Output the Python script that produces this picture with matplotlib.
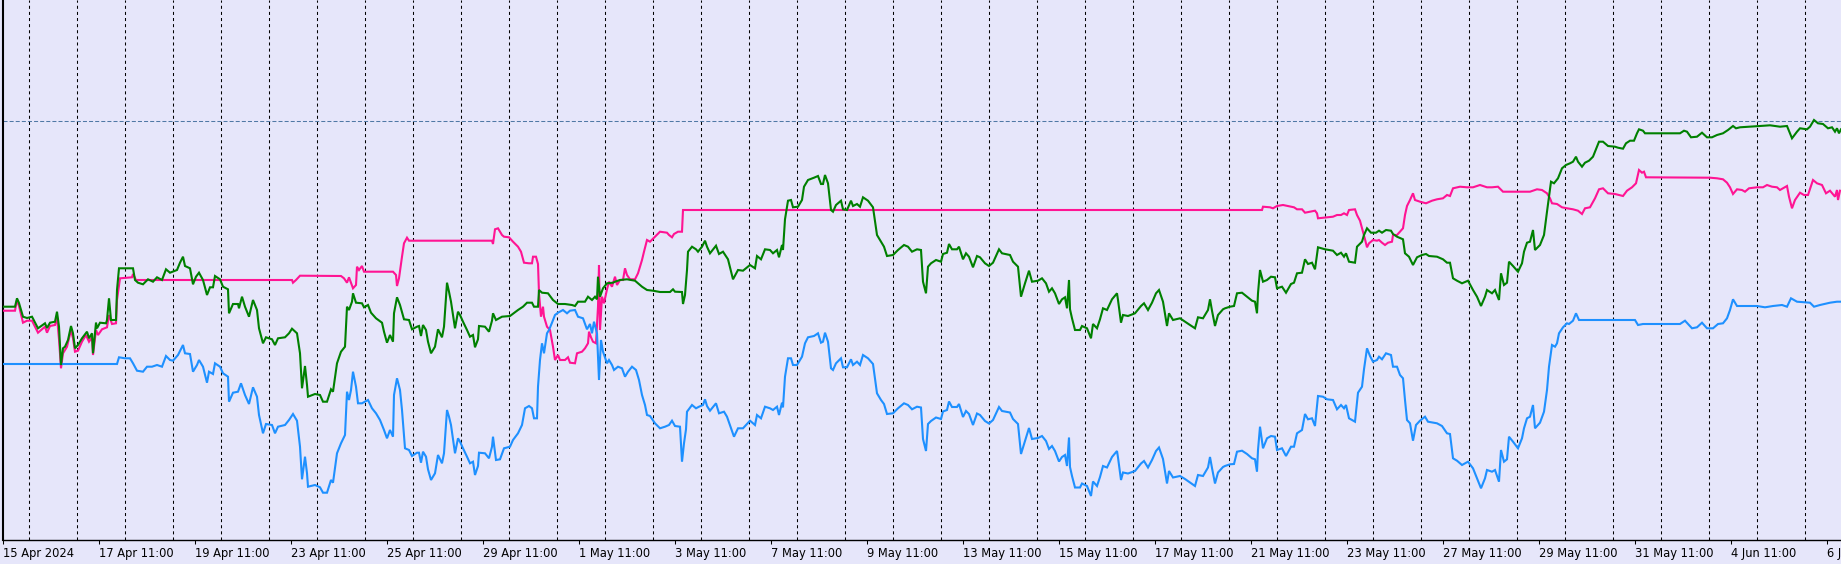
import numpy as np
import matplotlib
matplotlib.use("Agg")
import matplotlib.pyplot as plt

# bar index / value pairs
green = [(0, 233.3), (12, 233.3), (14, 241.7), (16, 237), (20, 223.3), (24, 222), (29, 223.3), (35, 211.7),
         (42, 216.7), (44, 212), (47, 217.3), (52, 218.3), (54, 228.3), (56, 213.3), (58, 175), (60, 191.7),
         (62, 193.3), (65, 200), (68, 214), (70, 206.7), (72, 191.7), (75, 195), (79, 201.7), (84, 208.3),
         (86, 201.7), (89, 206.7), (90, 186.7), (93, 217.3), (94, 211.7), (97, 217.3), (103, 216.7), (104, 220),
         (106, 241.7), (108, 220), (113, 220), (114, 250), (116, 271.7), (130, 271.7), (132, 260), (135, 257.3),
         (140, 255.7), (145, 260.7), (150, 258.3), (154, 262.7), (159, 260), (163, 270.7), (167, 267.3),
         (174, 270), (177, 277.3), (180, 283.3), (182, 274), (187, 271.7), (190, 255.7), (193, 263.3),
         (196, 267.3), (200, 260), (204, 245), (207, 252.7), (210, 252.7), (212, 264), (217, 260.7),
         (220, 253.3), (225, 250.7), (226, 226.7), (230, 236), (235, 236), (236, 231.7), (239, 243.3),
         (242, 233.3), (246, 223.3), (250, 240), (254, 230), (256, 211.7), (260, 196.7), (263, 202.7),
         (269, 200.7), (272, 195), (275, 201.7), (282, 202.7), (286, 206.7), (289, 211.3), (294, 206.7),
         (297, 186.7), (299, 151.7), (302, 174), (304, 155), (305, 143.3), (312, 146), (317, 145), (320, 138.3),
         (324, 138.3), (328, 150.7), (330, 148.3), (334, 176.7), (338, 188.3), (342, 193.3), (344, 233.3),
         (346, 230), (349, 238.3), (350, 246.7), (353, 237.3), (359, 236.7), (361, 232.7), (365, 235),
         (368, 227.3), (373, 221.7), (379, 217.3), (381, 208.3), (384, 197.3), (387, 205), (390, 198.3),
         (391, 226.7), (394, 242.7), (397, 235), (401, 220.7), (406, 220), (409, 210.7), (414, 213.3),
         (416, 214), (418, 204), (420, 215), (423, 210), (425, 198.3), (428, 186.7), (432, 193.3), (435, 210.7),
         (439, 202.7), (441, 213.3), (444, 257.3), (446, 248.3), (448, 238.3), (452, 211.7), (455, 228.3),
         (457, 225), (460, 218.3), (464, 210), (467, 203.3), (470, 205), (472, 192.7), (475, 200.7), (476, 214),
         (482, 213.3), (486, 208.3), (489, 219.3), (490, 226.7), (493, 220), (499, 223.3), (507, 224),
         (515, 230), (520, 233.3), (524, 237.3), (529, 237.3), (531, 233.3), (535, 233.3), (536, 250),
         (539, 247.3), (545, 246.7), (550, 240), (555, 236), (562, 236), (569, 235), (572, 234), (575, 238.3),
         (582, 238.3), (585, 243.3), (589, 240), (592, 243.3), (594, 240.7), (595, 263.3), (597, 243.3),
         (600, 251.7), (604, 256.7), (610, 257.3), (612, 258.3), (617, 260), (624, 260.7), (632, 259.3),
         (639, 253.3), (644, 250), (650, 249.3), (657, 248), (667, 248), (670, 250.7), (672, 248.3), (679, 248),
         (680, 236), (682, 245), (684, 270), (685, 288.3), (689, 293.3), (693, 290.7), (695, 288.3),
         (699, 293.3), (702, 299.3), (704, 293.3), (707, 286.7), (713, 294.3), (716, 286), (720, 288.3),
         (725, 280.7), (730, 260.7), (735, 270), (740, 269.3), (747, 275), (752, 271.7), (754, 284),
         (758, 280.7), (762, 290.7), (767, 290), (770, 286.7), (774, 290), (776, 282.7), (779, 295), (780, 290),
         (782, 320.7), (785, 339.3), (788, 340), (790, 332.7), (795, 333.3), (799, 340), (801, 353.3),
         (805, 360), (811, 362.3), (815, 364), (818, 356), (820, 356), (822, 365), (825, 356.7), (828, 330),
         (830, 328.3), (833, 335), (838, 339.3), (840, 330.7), (844, 330), (848, 339.3), (850, 334), (854, 336),
         (857, 333.3), (860, 342.7), (865, 339.3), (870, 332.7), (874, 305), (878, 298.3), (881, 293.3),
         (884, 284), (890, 285), (895, 290), (901, 295), (905, 293.3), (909, 288.3), (914, 290.7), (918, 290),
         (920, 258.3), (923, 246.7), (925, 273.3), (928, 276.7), (933, 280), (938, 278.3), (940, 286),
         (944, 287.3), (946, 296), (949, 290.7), (954, 290.7), (956, 293.3), (960, 280.7), (963, 286.7),
         (966, 283.3), (970, 272.7), (974, 284), (977, 282.7), (982, 276.7), (986, 274), (990, 277.3),
         (996, 290.7), (999, 286.7), (1007, 285), (1010, 278.3), (1015, 273.3), (1018, 243.3), (1022, 256.7),
         (1026, 269.3), (1029, 258.3), (1035, 259.3), (1039, 261.7), (1043, 256.7), (1046, 248.3),
         (1049, 251.7), (1052, 246.7), (1056, 236), (1059, 240.7), (1062, 242.7), (1064, 231.7), (1066, 260),
         (1067, 230.7), (1069, 221.7), (1072, 210), (1077, 210), (1079, 214), (1084, 211.7), (1088, 201.7),
         (1090, 216), (1094, 211.7), (1097, 220.7), (1100, 231.7), (1104, 230), (1109, 240.7), (1114, 246.7),
         (1115, 240), (1118, 217.3), (1120, 225), (1125, 224), (1132, 226.7), (1138, 234), (1141, 236.7),
         (1145, 230), (1149, 237.3), (1153, 246.7), (1156, 250), (1160, 238.3), (1164, 214), (1166, 226.7),
         (1170, 220), (1177, 221.7), (1182, 218.3), (1187, 215), (1192, 211.7), (1195, 222.7), (1200, 221.7),
         (1205, 230), (1207, 240.7), (1209, 229.3), (1212, 214), (1215, 225), (1220, 230.7), (1222, 231.7),
         (1227, 233.3), (1231, 234), (1234, 246.7), (1239, 247.3), (1244, 243.3), (1249, 239.3), (1252, 238.3),
         (1254, 226.7), (1255, 246.7), (1257, 270), (1260, 258.3), (1264, 260), (1268, 263.3), (1272, 262.7),
         (1274, 251.7), (1279, 253.3), (1283, 247.3), (1288, 256), (1291, 257.3), (1294, 266.7), (1299, 267.3),
         (1302, 280.7), (1305, 276), (1309, 277.3), (1312, 270.7), (1315, 292.7), (1322, 290.7), (1330, 289.3),
         (1334, 285), (1338, 287.3), (1341, 283.3), (1343, 286.7), (1346, 278.3), (1352, 277.3), (1354, 293.3),
         (1359, 298.3), (1361, 305), (1364, 311.7), (1368, 307.3), (1373, 307.3), (1376, 309.3), (1379, 307.3),
         (1383, 310), (1388, 309.3), (1390, 306), (1394, 303.3), (1400, 300.7), (1402, 286.7), (1406, 283.3),
         (1410, 275), (1414, 282.7), (1419, 285), (1423, 286), (1426, 284), (1434, 283.3), (1440, 280.7),
         (1444, 277.3), (1447, 277.3), (1450, 261.7), (1454, 259.3), (1459, 256.7), (1465, 259.3), (1470, 250),
         (1474, 243.3), (1478, 234), (1482, 243.3), (1484, 250), (1489, 246.7), (1492, 250), (1496, 240),
         (1498, 266.7), (1501, 255), (1504, 257.3), (1506, 278.3), (1510, 274), (1515, 268.3), (1519, 276.7),
         (1521, 288.3), (1524, 297.3), (1527, 298.3), (1530, 310), (1532, 290), (1537, 295), (1541, 305),
         (1544, 328.3), (1548, 358.3), (1551, 356.7), (1555, 361.7), (1559, 371.7), (1563, 375), (1567, 376.7),
         (1570, 378.3), (1573, 383.3), (1575, 378.3), (1579, 373.3), (1582, 377.3), (1586, 379.3), (1590, 383.3),
         (1594, 393.3), (1596, 398.3), (1600, 398.3), (1605, 394), (1612, 393.3), (1615, 392.3), (1620, 391.3),
         (1623, 396.7), (1627, 399.3), (1631, 399.3), (1634, 406.7), (1636, 410.7), (1640, 409.3), (1642, 406.7),
         (1677, 406.7), (1681, 409.3), (1684, 408.3), (1688, 402.7), (1694, 403.3), (1699, 407.3), (1704, 402.7),
         (1709, 402.7), (1714, 405), (1720, 406.7), (1725, 410), (1730, 414), (1733, 411.7), (1737, 412.7),
         (1747, 413.3), (1757, 414), (1767, 414.7), (1777, 413.3), (1784, 414), (1789, 401.7), (1794, 408.3),
         (1797, 411.7), (1804, 410.7), (1807, 413.3), (1811, 420), (1815, 416.7), (1820, 416), (1825, 411.7),
         (1829, 412.7), (1832, 408.3), (1834, 411.7), (1836, 406.7), (1838, 410.7)]

pink = [(0, 229.3), (12, 229.3), (14, 240), (16, 234), (20, 217.3), (24, 219.3), (29, 219.3), (35, 207.3),
        (42, 213.3), (44, 207.3), (47, 214), (52, 215), (54, 223.3), (56, 200.7), (58, 171.7), (60, 186.7),
        (64, 193.3), (68, 210), (70, 201.7), (72, 188.3), (75, 189.3), (79, 198.3), (83, 205), (86, 198.3),
        (89, 202.7), (90, 185), (93, 210), (95, 205), (99, 210.7), (104, 212.7), (106, 225), (109, 216),
        (113, 216.7), (114, 240), (117, 261.7), (129, 262.7), (130, 266), (133, 260), (289, 260), (290, 257.3),
        (293, 260), (297, 264.3), (338, 264), (341, 261.7), (344, 257.3), (346, 262.7), (348, 257.3),
        (350, 251.7), (353, 255), (354, 273.3), (356, 270), (359, 274), (361, 268.3), (390, 268.3), (393, 265),
        (394, 254), (396, 261.7), (399, 283.3), (401, 296.7), (404, 302.3), (406, 299.3), (489, 299.3),
        (490, 296), (492, 310.7), (495, 311.7), (499, 305), (501, 303.3), (506, 302.7), (510, 298.3),
        (515, 293.3), (518, 288.3), (521, 277.3), (526, 276.7), (529, 276.7), (530, 283.3), (533, 283.3),
        (535, 276), (536, 246.7), (538, 223.3), (540, 233.3), (541, 223.3), (544, 213.3), (547, 210),
        (550, 193.3), (552, 180), (555, 185), (557, 180), (562, 180), (565, 182.7), (567, 177.3), (572, 176.7),
        (574, 186.7), (579, 188.3), (582, 191.7), (585, 196.7), (586, 208.3), (588, 202.7), (590, 198.3),
        (593, 196.7), (595, 233.3), (596, 275), (597, 210), (599, 243.3), (601, 236.7), (604, 250.7),
        (606, 258.3), (609, 253.3), (612, 263.3), (614, 255), (617, 260), (620, 260), (622, 271.7), (624, 265),
        (627, 260.7), (632, 260.7), (635, 266.7), (639, 280), (641, 288.3), (644, 300), (647, 298.3),
        (652, 303.3), (657, 308.3), (664, 307.3), (666, 305), (669, 302.7), (671, 306), (675, 308.3),
        (679, 308.3), (680, 330), (1259, 330), (1260, 333.3), (1267, 332.7), (1270, 331.7), (1274, 334),
        (1280, 335), (1285, 334), (1291, 332.7), (1294, 330.7), (1299, 330.7), (1302, 327.3), (1307, 328.3),
        (1312, 329.3), (1314, 326.7), (1315, 321.7), (1324, 322.7), (1330, 323.3), (1334, 325), (1338, 325),
        (1341, 326.7), (1344, 325), (1346, 330), (1352, 330.7), (1354, 325), (1357, 319.3), (1360, 308.3),
        (1362, 300.7), (1364, 292.7), (1366, 296.7), (1370, 300), (1374, 299.3), (1376, 300), (1379, 297.3),
        (1382, 295), (1385, 297.3), (1389, 298.3), (1390, 305), (1394, 305), (1397, 308.3), (1400, 311.7),
        (1402, 325), (1404, 334), (1407, 340), (1410, 346.7), (1412, 340), (1417, 338.3), (1423, 336.7),
        (1429, 339.3), (1434, 340.7), (1440, 341.7), (1444, 345), (1447, 344), (1450, 351.7), (1457, 353.3),
        (1464, 352.7), (1470, 352.7), (1477, 355), (1484, 352.7), (1489, 352.7), (1495, 353.3), (1500, 348.3),
        (1527, 348.3), (1534, 350.7), (1539, 350), (1544, 346.7), (1547, 341.7), (1549, 336.7), (1554, 336),
        (1559, 332.7), (1564, 331.7), (1570, 330.7), (1575, 329.3), (1579, 326), (1582, 331.7), (1587, 332.7),
        (1592, 341.7), (1596, 350.7), (1600, 351.7), (1605, 346.7), (1612, 346), (1620, 344), (1624, 349.3),
        (1629, 352.7), (1633, 356.7), (1636, 370), (1639, 367.3), (1641, 368.3), (1643, 362.7), (1707, 362.3),
        (1714, 361.7), (1720, 360.7), (1724, 357.3), (1727, 352.7), (1730, 346), (1734, 350.7), (1739, 350),
        (1742, 348.3), (1746, 351.7), (1754, 352.7), (1760, 352.7), (1764, 355), (1769, 353.3), (1774, 352.7),
        (1777, 350), (1780, 351.7), (1784, 354), (1786, 343.3), (1789, 331.7), (1792, 340), (1797, 347.3),
        (1801, 345), (1805, 345), (1810, 360), (1814, 356.7), (1819, 355), (1823, 346.7), (1827, 349.3),
        (1832, 343.3), (1834, 350), (1835, 340), (1837, 349.3)]

blue = [(0, 176), (114, 176), (116, 182.7), (122, 181.7), (127, 181.7), (130, 176.7), (134, 169.3), (140, 168.3),
        (144, 173.3), (149, 173.3), (154, 175), (159, 173.3), (163, 184), (167, 180), (170, 179.3), (175, 185),
        (180, 195), (182, 186.7), (187, 186), (190, 168.3), (194, 175), (196, 180), (200, 173.3), (204, 157.3),
        (206, 168.3), (210, 166), (212, 176.7), (217, 173.3), (220, 166.7), (225, 163.3), (226, 138.3),
        (230, 147.3), (235, 148.3), (238, 156.7), (242, 145), (246, 136), (250, 152.7), (254, 143.3), (256, 125),
        (260, 106.7), (263, 116), (269, 115), (272, 106.7), (275, 113.3), (282, 115), (286, 120), (290, 126),
        (294, 119.3), (297, 93.3), (299, 60.7), (302, 83.3), (304, 66.7), (305, 53.3), (312, 55), (317, 52.7),
        (320, 47.3), (324, 47.3), (328, 60), (330, 57.3), (334, 86.7), (338, 96.7), (342, 105), (344, 148.3),
        (346, 140), (348, 150), (350, 168.3), (353, 153.3), (355, 136.7), (359, 136.7), (362, 138.3), (365, 140),
        (369, 131.7), (373, 126.7), (377, 120), (381, 110), (384, 101.7), (387, 110), (390, 103.3), (391, 145),
        (394, 161.7), (397, 150), (399, 130), (402, 91.7), (406, 90), (409, 84), (414, 87.3), (416, 87.3),
        (418, 77.3), (420, 88.3), (423, 83.3), (425, 70.7), (428, 60), (432, 66.7), (435, 85), (439, 76.7),
        (441, 86.7), (444, 130), (446, 123.3), (448, 115), (452, 86.7), (455, 101.7), (457, 98.3), (460, 91.7),
        (464, 83.3), (467, 76.7), (470, 78.3), (472, 65), (475, 74), (476, 87.3), (482, 86.7), (486, 81.7),
        (489, 93.3), (490, 103.3), (493, 80), (497, 80.7), (501, 91.7), (507, 93.3), (510, 100), (515, 106.7),
        (519, 115), (522, 131.7), (526, 134), (529, 131.7), (531, 121.7), (534, 121.7), (535, 153.3), (537, 180),
        (539, 196.7), (541, 186.7), (544, 206.7), (546, 210), (549, 217.3), (552, 225), (555, 227.3), (560, 230),
        (564, 226.7), (567, 229.3), (572, 230), (575, 223.3), (580, 221.7), (584, 210.7), (587, 216),
        (589, 206.7), (591, 218.3), (594, 206.7), (596, 160), (598, 200), (600, 188.3), (604, 176.7), (606, 180),
        (609, 175), (611, 170), (615, 173.3), (619, 171.7), (622, 163.3), (625, 168.3), (629, 173.3), (633, 170),
        (636, 160), (639, 145), (642, 135), (644, 125), (647, 124), (652, 116.7), (657, 111.7), (662, 113.3),
        (666, 115), (669, 119.3), (672, 114), (677, 113.3), (679, 78.3), (681, 96.7), (683, 110.7), (684, 128.3),
        (689, 135), (693, 131.7), (696, 133.3), (700, 135), (702, 140.7), (704, 134), (707, 129.3), (713, 136.7),
        (716, 126.7), (721, 128.3), (724, 123.3), (728, 111.7), (731, 103.3), (735, 111.7), (740, 111.7),
        (747, 119.3), (752, 115), (754, 125), (758, 121.7), (762, 133.3), (767, 131.7), (770, 130), (774, 133.3),
        (776, 125), (779, 137.3), (780, 132.7), (782, 163.3), (785, 181.7), (788, 181.7), (790, 175), (794, 175),
        (799, 183.3), (802, 196.7), (805, 202.7), (811, 204), (815, 206.7), (818, 197.3), (820, 198.3),
        (822, 207.3), (825, 198.3), (828, 171.7), (830, 170), (833, 176.7), (838, 181.7), (840, 172.7),
        (844, 172.7), (848, 180.7), (850, 175), (854, 178.3), (857, 175), (860, 185), (865, 181.7), (870, 176),
        (874, 146.7), (878, 140), (881, 136), (884, 126), (890, 126.7), (895, 131.7), (901, 136.7), (905, 135),
        (909, 130.7), (914, 133.3), (918, 132.5), (920, 101), (923, 89), (925, 116), (928, 119), (933, 122.5),
        (938, 121), (940, 128.5), (944, 130), (946, 138.5), (949, 133), (954, 133), (956, 136), (960, 123),
        (963, 129), (966, 126), (970, 115), (974, 126.5), (977, 125), (982, 119), (986, 116.5), (990, 120),
        (996, 133), (999, 129), (1007, 127.5), (1010, 121), (1015, 116), (1018, 86), (1022, 99), (1026, 112),
        (1029, 101), (1035, 102), (1039, 104), (1043, 99), (1046, 91), (1049, 94), (1052, 89), (1056, 78.5),
        (1059, 83), (1062, 85), (1064, 74), (1066, 102.5), (1067, 73), (1069, 64), (1072, 52.5), (1077, 52.5),
        (1079, 56.5), (1084, 54), (1088, 44), (1090, 58.5), (1094, 54), (1097, 63), (1100, 74), (1104, 72.5),
        (1109, 83), (1114, 89), (1115, 82.5), (1118, 60), (1120, 67.5), (1125, 66.5), (1132, 69), (1138, 76.5),
        (1141, 79), (1145, 72.5), (1149, 80), (1153, 89), (1156, 92.5), (1160, 81), (1164, 56.5), (1166, 69),
        (1170, 62.5), (1177, 64), (1182, 61), (1187, 57.5), (1192, 54), (1195, 65), (1200, 64), (1205, 72.5),
        (1207, 83), (1209, 72), (1212, 56.5), (1215, 67.5), (1220, 73), (1222, 74), (1227, 75.7), (1231, 76),
        (1234, 88.3), (1239, 89.3), (1244, 86), (1249, 81.7), (1252, 80.7), (1254, 68.3), (1255, 90),
        (1257, 113.3), (1260, 91.7), (1264, 101.7), (1268, 104), (1272, 103.3), (1274, 90), (1279, 91.7),
        (1283, 84), (1288, 93.3), (1291, 93.3), (1294, 106.7), (1299, 110), (1302, 126), (1305, 120.7),
        (1309, 121.7), (1312, 114), (1315, 144), (1320, 143.3), (1324, 140.7), (1330, 140), (1334, 130.7),
        (1338, 135), (1341, 131.7), (1343, 135), (1346, 121.7), (1352, 118.3), (1355, 147.3), (1359, 153.3),
        (1361, 170.7), (1364, 191.7), (1367, 184), (1370, 178.3), (1374, 180), (1376, 183.3), (1379, 180.7),
        (1383, 186.7), (1388, 185), (1390, 173.3), (1394, 173.3), (1397, 165), (1400, 161.7), (1402, 140),
        (1404, 120), (1407, 116.7), (1410, 99.3), (1413, 115), (1417, 119.3), (1422, 123.3), (1425, 118.3),
        (1434, 116.7), (1439, 114), (1444, 106.7), (1447, 106), (1450, 81.7), (1454, 79.3), (1459, 75),
        (1465, 78.3), (1470, 71.7), (1474, 61.7), (1478, 51.7), (1482, 61.7), (1484, 70), (1489, 68.3),
        (1492, 70), (1496, 58.3), (1498, 90), (1501, 78.3), (1504, 80.7), (1506, 103.3), (1510, 98.3),
        (1515, 91.7), (1519, 101.7), (1521, 111.7), (1524, 121.7), (1527, 123.3), (1530, 135), (1532, 111.7),
        (1537, 117.3), (1541, 128.3), (1544, 150), (1546, 173.3), (1549, 195), (1552, 193.3), (1554, 196.7),
        (1556, 206.7), (1560, 212.7), (1564, 216.7), (1566, 216), (1570, 219.3), (1573, 226.7), (1576, 220),
        (1632, 220), (1635, 215), (1640, 216), (1677, 216), (1682, 219.3), (1685, 216), (1689, 211.7),
        (1694, 212.7), (1699, 217.3), (1704, 211.7), (1710, 211.7), (1715, 216), (1720, 216.7), (1724, 221.7),
        (1727, 230), (1730, 240.7), (1734, 234), (1754, 234), (1762, 232.7), (1770, 234), (1779, 235),
        (1784, 233.3), (1788, 241.7), (1794, 238.3), (1807, 237.3), (1811, 233.3), (1817, 235), (1827, 237.3),
        (1834, 238.3), (1838, 238.3)]

level = 418.7

tick_bars = [0, 96, 192, 288, 384, 480, 576, 672, 768, 864, 960, 1056, 1152, 1248, 1344, 1440, 1536, 1632,
             1728, 1824]
tick_labels = ['15 Apr 2024', '17 Apr 11:00', '19 Apr 11:00', '23 Apr 11:00', '25 Apr 11:00', '29 Apr 11:00',
               '1 May 11:00', '3 May 11:00', '7 May 11:00', '9 May 11:00', '13 May 11:00', '15 May 11:00',
               '17 May 11:00', '21 May 11:00', '23 May 11:00', '27 May 11:00', '29 May 11:00', '31 May 11:00',
               '4 Jun 11:00', '6 Jun 11:00']

bg = '#e6e6fa'
W, H = 1841, 564

plt.rcParams['lines.scale_dashes'] = False
fig = plt.figure(figsize=(W / 100, H / 100), dpi=100, facecolor=bg)
ax = fig.add_axes([2.5 / W, 24 / H, 1 - 2.5 / W, 540 / H], facecolor=bg)

# vertical grid, one line every 48 bars
for gx in np.arange(26.3, 1838, 48):
    ax.axvline(gx, color='black', lw=0.75, dashes=(2.2, 2.2), zorder=1)
ax.axhline(level, color='#5079a5', lw=0.75, dashes=(2.9, 1.5), zorder=1)

for series, color in [(pink, '#ff1493'), (blue, '#1e90ff'), (green, '#008000')]:
    xs, ys = zip(*series)
    ax.plot(xs, ys, color=color, lw=1.5, zorder=3, solid_joinstyle='miter')

ax.set_xlim(-0.5, 1838)
ax.set_ylim(0, 540)

ax.set_xticks(tick_bars)
ax.set_xticklabels(tick_labels, ha='left', fontsize=8.3, family='DejaVu Sans')
ax.set_yticks([])
ax.tick_params(axis='x', direction='out', length=3, width=0.75, pad=2, colors='black')

for side in ['top', 'right']:
    ax.spines[side].set_visible(False)
ax.spines['left'].set_linewidth(1.5)
ax.spines['bottom'].set_linewidth(1.0)

fig.savefig('out.png', dpi=100, facecolor=bg)
